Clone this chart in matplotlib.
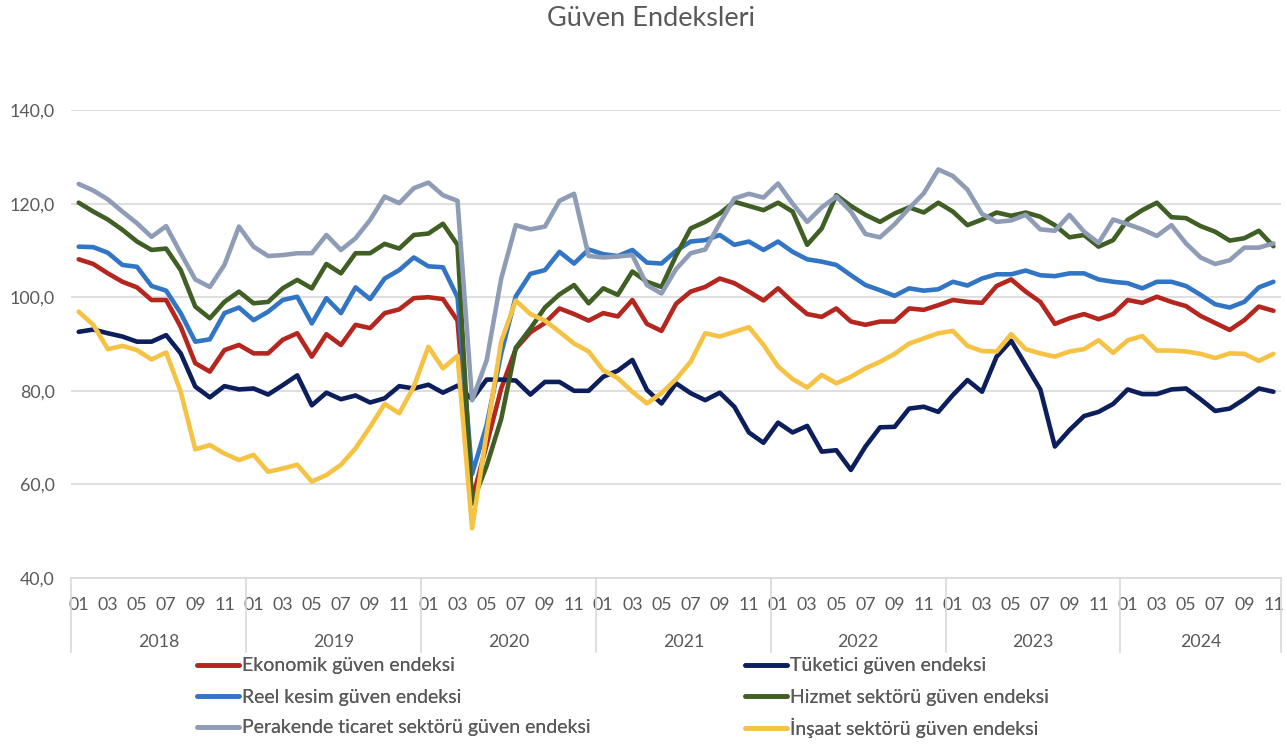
import numpy as np
import matplotlib
matplotlib.use("Agg")
import matplotlib.pyplot as plt
from matplotlib.ticker import FuncFormatter

plt.rcParams["font.family"] = ["Lato", "DejaVu Sans"]

TEXT = "#595959"
GRID = "#d9d9d9"

years = [2018, 2019, 2020, 2021, 2022, 2023, 2024]
months = [f"{m:02d}" for y in years for m in range(1, 13)][:83]

ekonomik = [108.1, 107.1, 105.1, 103.3, 102.1, 99.4, 99.4, 93.7, 85.9, 84.1, 88.7, 89.8,
            88.0, 88.0, 90.9, 92.3, 87.3, 92.1, 89.8, 94.1, 93.4, 96.6, 97.4, 99.8,
            100.0, 99.6, 95.0, 56.7, 68.5, 80.5, 89.0, 92.5, 94.5, 97.6, 96.4, 95.0,
            96.6, 95.9, 99.4, 94.3, 92.8, 98.6, 101.2, 102.2, 104.0, 103.0, 101.2, 99.3,
            101.9, 99.0, 96.4, 95.8, 97.6, 94.8, 94.1, 94.8, 94.8, 97.6, 97.3, 98.3,
            99.4, 99.0, 98.8, 102.4, 103.8, 101.2, 99.0, 94.3, 95.5, 96.4, 95.3, 96.4,
            99.4, 98.8, 100.1, 99.0, 98.1, 96.0, 94.5, 93.0, 95.1, 98.0, 97.1]
tuketici = [92.6, 93.1, 92.3, 91.6, 90.5, 90.5, 91.9, 88.0, 80.9, 78.6, 81.0, 80.3,
            80.5, 79.2, 81.2, 83.3, 76.9, 79.6, 78.2, 79.0, 77.5, 78.4, 81.0, 80.5,
            81.3, 79.6, 81.1, 78.2, 82.4, 82.4, 82.2, 79.2, 81.9, 81.9, 80.0, 80.0,
            83.0, 84.3, 86.6, 80.2, 77.3, 81.6, 79.5, 78.0, 79.6, 76.6, 71.1, 68.9,
            73.2, 71.1, 72.5, 67.0, 67.3, 63.1, 68.1, 72.2, 72.3, 76.2, 76.6, 75.5,
            79.1, 82.3, 79.8, 87.3, 90.7, 85.5, 80.3, 68.1, 71.6, 74.6, 75.5, 77.2,
            80.3, 79.3, 79.3, 80.3, 80.5, 78.2, 75.7, 76.2, 78.2, 80.5, 79.8]
reel = [110.8, 110.7, 109.5, 106.9, 106.5, 102.4, 101.4, 96.6, 90.5, 91.0, 96.6, 97.8,
        95.1, 96.9, 99.4, 100.1, 94.4, 99.8, 96.6, 102.1, 99.6, 104.0, 105.8, 108.5,
        106.6, 106.4, 100.0, 62.2, 72.7, 88.0, 100.2, 105.0, 105.8, 109.7, 107.2, 110.2,
        109.2, 108.8, 110.1, 107.4, 107.2, 109.9, 111.9, 112.2, 113.3, 111.2, 111.9, 110.1,
        111.9, 109.7, 108.1, 107.6, 106.9, 104.7, 102.6, 101.5, 100.3, 101.9, 101.4, 101.7,
        103.3, 102.5, 104.0, 104.9, 104.9, 105.7, 104.7, 104.5, 105.1, 105.1, 103.8, 103.3,
        103.0, 101.9, 103.3, 103.3, 102.4, 100.5, 98.5, 97.8, 99.0, 102.1, 103.3]
hizmet = [120.2, 118.3, 116.6, 114.4, 111.9, 110.1, 110.4, 105.8, 98.0, 95.5, 99.0, 101.2,
          98.7, 99.0, 101.9, 103.7, 101.9, 107.1, 105.1, 109.4, 109.4, 111.4, 110.4, 113.3,
          113.6, 115.7, 111.2, 55.9, 64.0, 74.0, 89.2, 93.3, 97.8, 100.6, 102.6, 98.7,
          101.9, 100.5, 105.5, 103.3, 102.2, 108.9, 114.7, 116.1, 117.9, 120.4, 119.5, 118.6,
          120.2, 118.3, 111.2, 114.7, 121.8, 119.5, 117.6, 116.1, 117.9, 119.2, 118.1, 120.2,
          118.3, 115.4, 116.6, 118.1, 117.4, 118.1, 117.2, 115.4, 112.8, 113.3, 110.8, 112.2,
          116.6, 118.6, 120.2, 117.1, 116.9, 115.2, 114.0, 112.1, 112.6, 114.2, 110.9]
perakende = [124.2, 122.8, 120.9, 118.3, 115.8, 112.9, 115.2, 109.4, 103.8, 102.2, 106.9, 115.1,
             110.8, 108.8, 109.0, 109.4, 109.4, 113.3, 110.1, 112.6, 116.5, 121.5, 120.1, 123.3,
             124.5, 121.8, 120.6, 78.0, 86.5, 104.0, 115.4, 114.5, 115.1, 120.6, 122.1, 108.8,
             108.5, 108.7, 109.0, 102.6, 100.8, 106.0, 109.4, 110.2, 115.8, 121.1, 122.1, 121.3,
             124.3, 120.0, 116.1, 119.2, 121.5, 118.3, 113.5, 112.8, 115.6, 119.0, 122.2, 127.3,
             125.9, 123.0, 117.8, 116.1, 116.4, 117.6, 114.5, 114.2, 117.6, 114.0, 111.6, 116.6,
             115.6, 114.5, 113.1, 115.4, 111.5, 108.5, 107.1, 107.9, 110.6, 110.6, 111.5]
insaat = [96.9, 94.1, 88.9, 89.6, 88.7, 86.7, 88.2, 79.8, 67.5, 68.4, 66.6, 65.2,
          66.3, 62.7, 63.4, 64.2, 60.6, 62.0, 64.2, 67.7, 72.3, 77.2, 75.2, 80.9,
          89.4, 84.8, 87.5, 50.6, 71.0, 90.6, 99.3, 96.4, 95.0, 92.6, 90.1, 88.4,
          84.4, 82.7, 79.8, 77.3, 79.5, 82.5, 86.2, 92.3, 91.6, 92.6, 93.6, 89.8,
          85.2, 82.5, 80.7, 83.4, 81.6, 83.0, 84.8, 86.2, 87.9, 90.1, 91.2, 92.3,
          92.8, 89.6, 88.5, 88.4, 92.1, 88.9, 88.0, 87.3, 88.4, 88.9, 90.8, 88.1,
          90.8, 91.7, 88.6, 88.6, 88.4, 87.9, 87.0, 88.0, 87.9, 86.4, 87.9]

series = [
    ("Ekonomik güven endeksi", ekonomik, "#b5261e"),
    ("Tüketici güven endeksi", tuketici, "#0c1f5c"),
    ("Reel kesim güven endeksi", reel, "#3275c4"),
    ("Hizmet sektörü güven endeksi", hizmet, "#3f5f24"),
    ("Perakende ticaret sektörü güven endeksi", perakende, "#8e9db5"),
    ("İnşaat sektörü güven endeksi", insaat, "#f5c244"),
]

fig = plt.figure(figsize=(12.87, 7.46), dpi=100)
ax = fig.add_axes([0.0555, 0.2252, 0.9396, 0.6273])

x = np.arange(len(months))
handles = []
for name, vals, col in series:
    ln, = ax.plot(x, vals, color=col, lw=3.3, solid_joinstyle="round",
                  solid_capstyle="round", label=name)
    handles.append(ln)

ax.set_xlim(-0.5, len(months) - 0.5)
ax.set_ylim(40, 140)
ax.set_yticks(np.arange(40, 141, 20))
ax.yaxis.set_major_formatter(FuncFormatter(lambda v, p: f"{v:.1f}".replace(".", ",")))
ax.grid(True, axis="y", color=GRID, lw=1.2)
ax.set_axisbelow(True)
for s in ["top", "right", "left"]:
    ax.spines[s].set_visible(False)
ax.spines["bottom"].set_color(GRID)
ax.spines["bottom"].set_linewidth(1.2)

odd = [i for i, m in enumerate(months) if int(m) % 2 == 1]
ax.set_xticks(odd)
ax.set_xticklabels([months[i] for i in odd])
ax.tick_params(axis="x", length=0, pad=14, labelsize=12.8, labelcolor=TEXT)
ax.tick_params(axis="y", length=0, pad=12, labelsize=12.8, labelcolor=TEXT)

# year groups under the month labels
trans = ax.get_xaxis_transform()
for k, yr in enumerate(years):
    start = k * 12 - 0.5
    end = min(start + 12, len(months) - 0.5)
    ax.text((start + end) / 2, -0.137, str(yr), transform=trans, ha="center",
            va="center", fontsize=12.8, color=TEXT)
    ax.plot([start, start], [0, -0.158], transform=trans, color=GRID, lw=1.2, clip_on=False)
ax.plot([len(months) - 0.5] * 2, [0, -0.158], transform=trans, color=GRID, lw=1.2,
        clip_on=False)

fig.text(0.506, 0.975, "Güven Endeksleri", ha="center", va="center", fontsize=19.5,
         color=TEXT)

# legend: two columns, one entry per row, placed like the original
rows_y = [666, 697, 728]
for k, h in enumerate(handles):
    col, row = k % 2, k // 2
    x0 = 197 if col == 0 else 745
    leg = fig.legend([h], [h.get_label()], loc="center left",
                     bbox_to_anchor=(x0 / 1287, 1 - rows_y[row] / 746), frameon=False,
                     fontsize=14, handlelength=2.15, handletextpad=0.15,
                     borderpad=0, borderaxespad=0)
    for t in leg.get_texts():
        t.set_color(TEXT)
    fig.add_artist(leg)

fig.savefig("out.png", dpi=100, facecolor="white")
